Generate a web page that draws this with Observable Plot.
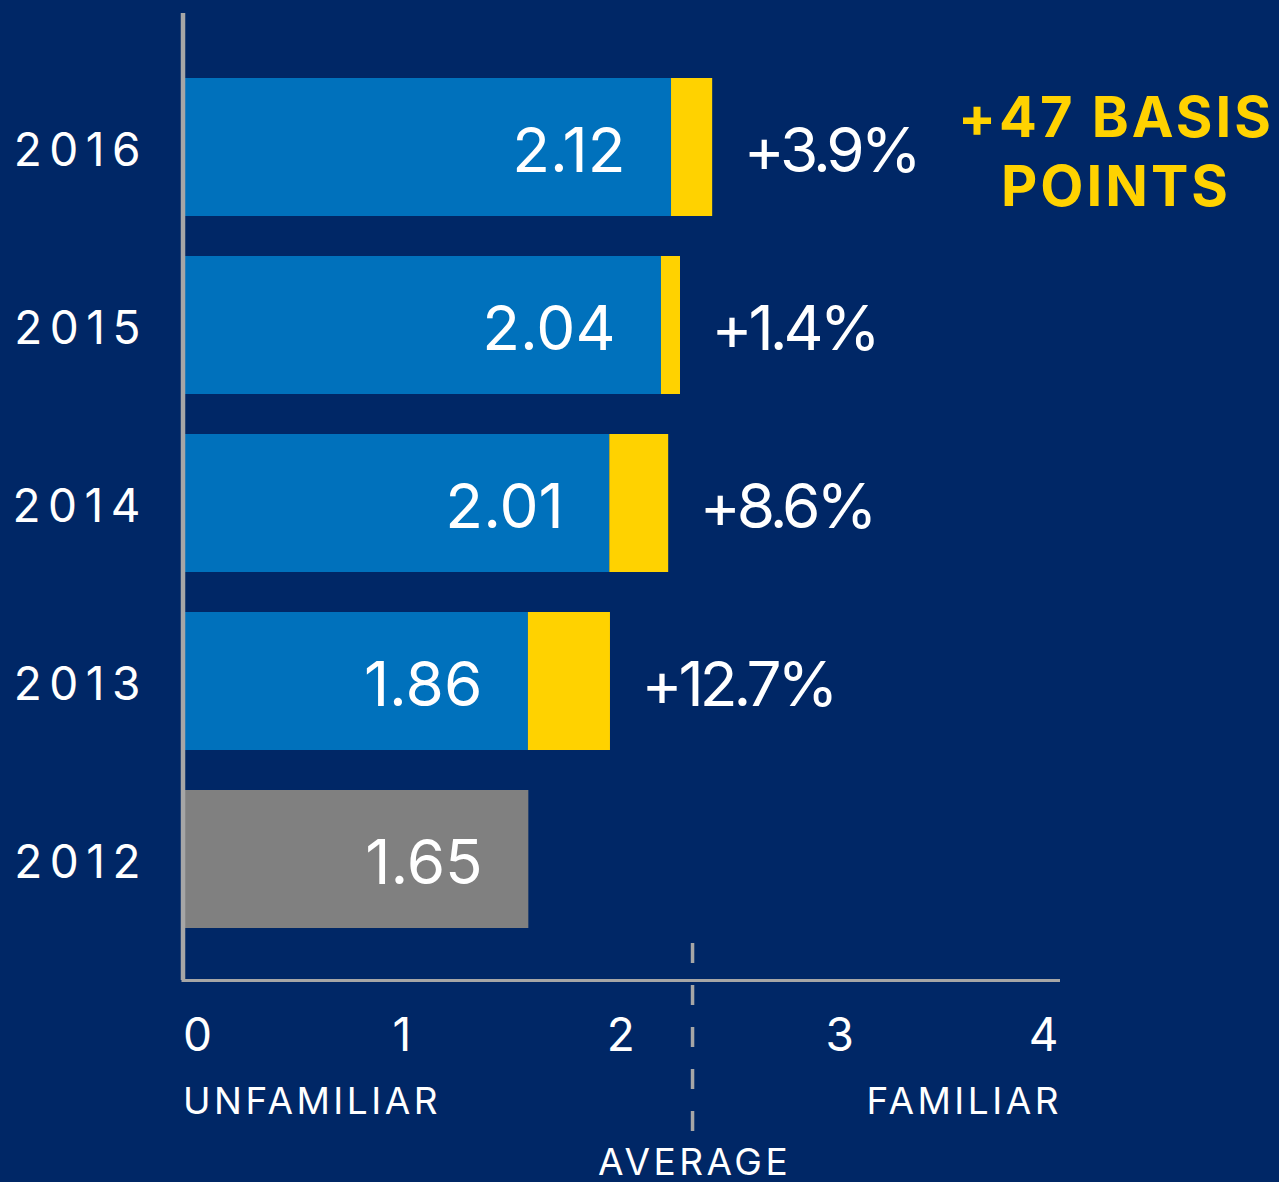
<!DOCTYPE html>
<html>
<head>
<meta charset="utf-8">
<script src="https://cdn.jsdelivr.net/npm/d3@7"></script>
<script src="https://cdn.jsdelivr.net/npm/@observablehq/plot@0.6"></script>
<style>
  html, body { margin: 0; padding: 0; background: #002766; }
  #chart { width: 1279px; height: 1182px; overflow: hidden; }
</style>
</head>
<body>
<div id="chart"></div>
<script>
// ---- data ----
const years = ["2016", "2015", "2014", "2013", "2012"];
const scores = [2.12, 2.04, 2.01, 1.86, 1.65];          // labelled score
const changes = ["+3.9%", "+1.4%", "+8.6%", "+12.7%", ""];
const baseEnd = [2.232, 2.186, 1.950, 1.578, 1.580];     // drawn end of blue / grey segment
const gainEnd = [2.420, 2.273, 2.219, 1.953, null];      // drawn end of yellow segment
const ticks = [0, 1, 2, 3, 4];
const average = 2.328;
const headline = ["+47 BASIS", "POINTS"];
const endLabels = ["UNFAMILIAR", "FAMILIAR"];
const averageLabel = "AVERAGE";

// ---- style ----
const NAVY = "#002766", BLUE = "#0071BC", YELLOW = "#FFD200", GREY = "#808080", AXIS = "#A6A6A6";
const FONT = "Inter, 'Open Sans', sans-serif";

const rows = years.map((y, i) => ({
  year: y, score: scores[i], change: changes[i], base: baseEnd[i], gain: gainEnd[i]
}));
const current = rows.filter(d => d.gain != null);
const baseline = rows.filter(d => d.gain == null);

const chart = Plot.plot({
  width: 1279,
  height: 1182,
  marginTop: 13,
  marginBottom: 202,
  marginLeft: 182.5,
  marginRight: 221,
  style: { background: NAVY, fontFamily: FONT, color: "white" },
  x: { domain: [0, 4], axis: null },
  y: { type: "band", domain: years, range: [37.1, 969.6], padding: 0.222, axis: null },
  marks: [
    Plot.barX(current, { y: "year", x1: 0, x2: "base", fill: BLUE }),
    Plot.barX(baseline, { y: "year", x1: 0, x2: "base", fill: GREY }),
    Plot.barX(current, { y: "year", x1: "base", x2: "gain", fill: YELLOW }),
    // axes lines
    Plot.ruleX([0], { stroke: AXIS, strokeWidth: 4.5 }),
    Plot.frame({ anchor: "bottom", stroke: AXIS, strokeWidth: 3 }),
    Plot.ruleX([average], { stroke: AXIS, strokeWidth: 3.5, strokeDasharray: "20,22", insetTop: 930, insetBottom: -153 }),
    // year labels
    Plot.text(rows, { y: "year", text: "year", frameAnchor: "left", textAnchor: "end", dx: -35, dy: 4,
      fontSize: 46, fill: "white" }),
    // score labels
    Plot.text(rows, { y: "year", x: "base", text: d => d.score.toFixed(2), textAnchor: "end", dx: -46, dy: 5,
      fontSize: 62, fill: "white" }),
    // change labels
    Plot.text(current, { y: "year", x: "gain", text: "change", textAnchor: "start", dx: 31, dy: 5,
      fontSize: 62, fill: "white" }),
    // headline
    Plot.text([{ year: years[0], text: headline.join("\n") }], { y: "year", text: "text", frameAnchor: "right",
      textAnchor: "middle", dx: 57.5, dy: 2, lineHeight: 1.22, fontSize: 56, fontWeight: 700, fill: YELLOW }),
    // tick labels
    Plot.text(ticks.filter(t => t === ticks[0]), { x: d => d, text: d => String(d), frameAnchor: "bottom",
      lineAnchor: "bottom", textAnchor: "start", dy: 70, fontSize: 46, fill: "white" }),
    Plot.text(ticks.slice(1, -1), { x: d => d, text: d => String(d), frameAnchor: "bottom",
      lineAnchor: "bottom", textAnchor: "middle", dy: 70, fontSize: 46, fill: "white" }),
    Plot.text(ticks.filter(t => t === ticks[ticks.length - 1]), { x: d => d, text: d => String(d), frameAnchor: "bottom",
      lineAnchor: "bottom", textAnchor: "end", dy: 70, fontSize: 46, fill: "white" }),
    // end labels
    Plot.text([endLabels[0]], { x: ticks[0], text: d => d, frameAnchor: "bottom", lineAnchor: "bottom",
      textAnchor: "start", dy: 133, fontSize: 37, fill: "white" }),
    Plot.text([endLabels[1]], { x: ticks[ticks.length - 1], text: d => d, frameAnchor: "bottom", lineAnchor: "bottom",
      textAnchor: "end", dx: 3.5, dy: 133, fontSize: 37, fill: "white" }),
    Plot.text([averageLabel], { x: average, text: d => d, frameAnchor: "bottom", lineAnchor: "bottom",
      textAnchor: "middle", dx: 2, dy: 194, fontSize: 37, fill: "white" })
  ]
});

// letter-spacing, chosen by which label a text element carries
const svg = d3.select(chart);
const spacingFor = t => {
  if (years.includes(t)) return "7.5px";
  if (changes.includes(t) && t !== "") return "-4px";
  if (t === headline.join("")) return "3px";
  if (endLabels.includes(t) || t === averageLabel) return "3.5px";
  return null;
};
svg.selectAll("text").each(function () {
  const s = spacingFor(this.textContent);
  if (s) d3.select(this).style("letter-spacing", s);
});
document.getElementById("chart").appendChild(chart);
</script>
</body>
</html>
